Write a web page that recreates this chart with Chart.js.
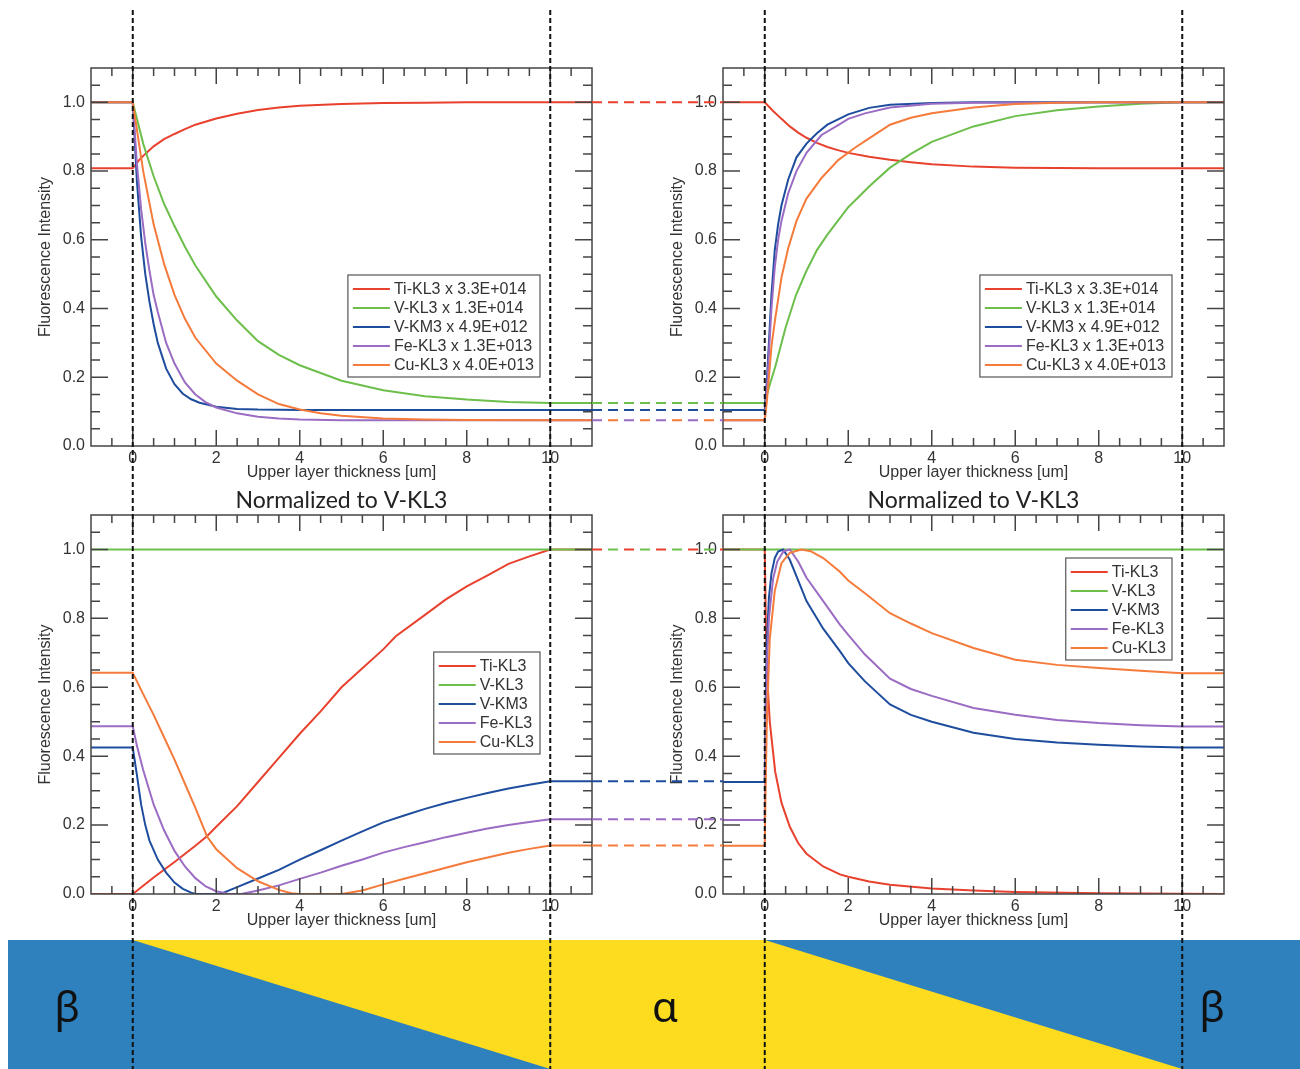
<!DOCTYPE html>
<html>
<head>
<meta charset="utf-8">
<script src="https://cdn.jsdelivr.net/npm/chart.js@4.4.1/dist/chart.umd.min.js"></script>
<style>
  html, body { margin: 0; padding: 0; background: #fff; }
  #page { position: relative; width: 1300px; height: 1069px; overflow: hidden; }
  .panel { position: absolute; width: 640px; height: 450px; }
  #band, #overlay { position: absolute; left: 0; top: 0; }
  #overlay { pointer-events: none; }
</style>
</head>
<body>
<div id="page">
  <canvas id="band" width="1300" height="1069"></canvas>
  <div class="panel" style="left:0;top:40px"><canvas id="cTL"></canvas></div>
  <div class="panel" style="left:632px;top:40px"><canvas id="cTR"></canvas></div>
  <div class="panel" style="left:0;top:487px"><canvas id="cBL"></canvas></div>
  <div class="panel" style="left:632px;top:487px"><canvas id="cBR"></canvas></div>
  <canvas id="overlay" width="1300" height="1069"></canvas>
</div>
<script>
// series names, scale factors and colours (same order in every panel)
const lineNames = ['Ti-KL3', 'V-KL3', 'V-KM3', 'Fe-KL3', 'Cu-KL3'];
const scaleFactors = ['3.3E+014', '1.3E+014', '4.9E+012', '1.3E+013', '4.0E+013'];
const lineColors = ['#e8412e', '#6cbf4b', '#1f4d9e', '#9b6cc3', '#f47b3b'];

const xTicks = [0, 2, 4, 6, 8, 10];
const yTicks = [0, 0.2, 0.4, 0.6, 0.8, 1.0];
const X_MINOR = 0.5, Y_MINOR = 0.05;

// --- top left: beta -> alpha, raw intensities  [x, y]
const tlTi = [[-1,0.808],[0,0.808],[0.15,0.832],[0.3,0.85],[0.5,0.872],[0.75,0.893],[1,0.908],[1.25,0.922],[1.5,0.935],[2,0.953],[2.5,0.967],[3,0.978],[3.5,0.985],[4,0.99],[5,0.995],[6,0.998],[7,0.999],[8,1],[10,1],[11,1]];
const tlV  = [[-1,1],[0,1],[0.25,0.88],[0.5,0.785],[0.75,0.705],[1,0.64],[1.25,0.58],[1.5,0.525],[2,0.435],[2.5,0.365],[3,0.305],[3.5,0.265],[4,0.235],[5,0.19],[6,0.162],[7,0.145],[8,0.135],[9,0.128],[10,0.125],[11,0.125]];
const tlVM = [[-1,1],[0,1],[0.1,0.77],[0.2,0.61],[0.3,0.5],[0.4,0.42],[0.5,0.355],[0.6,0.3],[0.8,0.225],[1,0.18],[1.2,0.152],[1.4,0.136],[1.6,0.126],[2,0.114],[2.5,0.108],[3,0.106],[4,0.105],[11,0.105]];
const tlFe = [[-1,1],[0,1],[0.1,0.82],[0.2,0.69],[0.3,0.59],[0.4,0.51],[0.5,0.44],[0.6,0.39],[0.8,0.3],[1,0.24],[1.25,0.185],[1.5,0.15],[1.75,0.127],[2,0.112],[2.5,0.095],[3,0.085],[3.5,0.08],[4,0.077],[5,0.075],[11,0.075]];
const tlCu = [[-1,1],[0,1],[0.25,0.8],[0.5,0.645],[0.75,0.53],[1,0.44],[1.25,0.37],[1.5,0.315],[2,0.24],[2.5,0.19],[3,0.15],[3.5,0.122],[4,0.106],[4.5,0.095],[5,0.088],[6,0.08],[7,0.077],[8,0.076],[10,0.075],[11,0.075]];

// --- top right: alpha -> beta, raw intensities
const trTi = [[-1,1],[0,1],[0.2,0.975],[0.4,0.952],[0.6,0.93],[0.8,0.912],[1,0.897],[1.25,0.882],[1.5,0.87],[1.75,0.861],[2,0.853],[2.5,0.842],[3,0.833],[3.5,0.826],[4,0.82],[5,0.813],[6,0.81],[8,0.808],[11,0.808]];
const trV  = [[-1,0.125],[0,0.125],[0.1,0.17],[0.25,0.23],[0.5,0.345],[0.75,0.44],[1,0.51],[1.25,0.57],[1.5,0.615],[2,0.695],[2.5,0.755],[3,0.81],[3.5,0.85],[4,0.885],[5,0.93],[6,0.96],[7,0.977],[8,0.988],[9,0.996],[10,1],[11,1]];
const trVM = [[-1,0.105],[0,0.105],[0.05,0.19],[0.1,0.3],[0.16,0.44],[0.24,0.57],[0.32,0.645],[0.4,0.7],[0.56,0.775],[0.76,0.84],[1,0.88],[1.25,0.91],[1.5,0.935],[2,0.965],[2.5,0.984],[3,0.993],[4,0.998],[5,1],[11,1]];
const trFe = [[-1,0.075],[0,0.075],[0.05,0.16],[0.1,0.27],[0.16,0.4],[0.24,0.52],[0.32,0.6],[0.4,0.655],[0.56,0.735],[0.76,0.8],[1,0.853],[1.36,0.905],[1.76,0.934],[2,0.952],[2.4,0.968],[3,0.985],[4,0.996],[5,0.999],[11,1]];
const trCu = [[-1,0.075],[0,0.075],[0.05,0.13],[0.1,0.2],[0.16,0.29],[0.25,0.37],[0.4,0.49],[0.56,0.575],[0.76,0.655],[1,0.72],[1.36,0.78],[1.76,0.832],[2.16,0.868],[2.5,0.895],[3,0.935],[3.5,0.955],[4,0.968],[5,0.985],[6,0.995],[7,0.999],[8,1],[11,1]];

// --- bottom left: normalized to V-KL3, beta -> alpha
const blTi = [[-1,0],[0,0],[0.5,0.048],[1,0.093],[1.5,0.14],[1.77,0.167],[2,0.195],[2.5,0.255],[3,0.325],[3.5,0.395],[4,0.465],[4.5,0.53],[5,0.6],[5.5,0.655],[6,0.71],[6.3,0.748],[7,0.81],[7.5,0.855],[8,0.893],[8.5,0.925],[9,0.958],[9.5,0.98],[10,1],[11,1]];
const blV  = [[-1,1],[11,1]];
const blVM = [[-1,0.425],[0,0.425],[0.1,0.345],[0.2,0.26],[0.3,0.2],[0.4,0.155],[0.6,0.1],[0.8,0.062],[1,0.033],[1.2,0.015],[1.4,0.004],[1.5,0],[2.1,0],[2.5,0.02],[3,0.045],[3.5,0.07],[4,0.1],[4.5,0.127],[5,0.155],[5.5,0.182],[6,0.208],[6.5,0.228],[7,0.247],[7.5,0.264],[8,0.279],[8.5,0.293],[9,0.306],[9.5,0.317],[10,0.327],[11,0.327]];
const blFe = [[-1,0.487],[0,0.487],[0.1,0.43],[0.25,0.36],[0.5,0.26],[0.75,0.185],[1,0.125],[1.25,0.08],[1.5,0.046],[1.75,0.022],[2,0.008],[2.3,0],[2.6,0],[3,0.01],[3.5,0.025],[4,0.044],[4.5,0.062],[5,0.082],[5.5,0.1],[6,0.12],[6.5,0.136],[7,0.15],[7.5,0.165],[8,0.178],[8.5,0.19],[9,0.2],[9.5,0.209],[10,0.217],[11,0.217]];
const blCu = [[-1,0.642],[0,0.642],[0.25,0.58],[0.5,0.52],[0.75,0.455],[1,0.39],[1.25,0.32],[1.5,0.25],[1.78,0.167],[2,0.13],[2.5,0.075],[3,0.037],[3.5,0.012],[3.8,0.002],[4,0],[5,0],[5.5,0.01],[6,0.028],[6.5,0.044],[7,0.06],[7.5,0.076],[8,0.092],[8.5,0.106],[9,0.12],[9.5,0.131],[10,0.141],[11,0.141]];

// --- bottom right: normalized to V-KL3, alpha -> beta
const brTi = [[-1,1],[0,1],[0.03,0.76],[0.06,0.63],[0.12,0.5],[0.25,0.355],[0.4,0.265],[0.6,0.195],[0.8,0.148],[1,0.117],[1.4,0.08],[1.8,0.057],[2,0.05],[2.5,0.036],[3,0.027],[4,0.016],[5,0.01],[6,0.006],[8,0.002],[10,0.001],[11,0]];
const brV  = [[-1,1],[11,1]];
const brVM = [[-1,0.325],[0,0.325],[0.02,0.55],[0.05,0.73],[0.1,0.86],[0.16,0.93],[0.24,0.975],[0.32,0.994],[0.44,1],[0.6,0.97],[0.8,0.91],[1,0.85],[1.4,0.77],[1.8,0.705],[2,0.67],[2.4,0.617],[3,0.55],[3.5,0.52],[4,0.5],[5,0.468],[6,0.45],[7,0.44],[8,0.433],[9,0.428],[10,0.425],[11,0.425]];
const brFe = [[-1,0.215],[0,0.215],[0.02,0.45],[0.05,0.66],[0.1,0.8],[0.2,0.915],[0.3,0.965],[0.45,0.995],[0.6,1],[0.8,0.965],[1,0.918],[1.4,0.85],[1.8,0.782],[2,0.752],[2.4,0.695],[3,0.625],[3.5,0.595],[4,0.575],[5,0.54],[6,0.52],[7,0.505],[8,0.496],[9,0.49],[10,0.486],[11,0.486]];
const brCu = [[-1,0.14],[0,0.14],[0.02,0.3],[0.05,0.5],[0.12,0.74],[0.24,0.88],[0.4,0.96],[0.6,0.99],[0.88,1],[1.1,0.995],[1.4,0.975],[1.8,0.935],[2,0.91],[2.4,0.873],[3,0.815],[3.5,0.785],[4,0.757],[5,0.714],[6,0.68],[7,0.665],[8,0.656],[9,0.648],[10,0.641],[11,0.641]];

const SANS = '"Liberation Sans", Arial, sans-serif';
const FS = 16;
Chart.defaults.font.family = SANS;
Chart.defaults.font.size = FS;
Chart.defaults.color = '#333';

function isMajor(v, list){
  return list.some(t => Math.abs(t - v) < 1e-6);
}

// IDL-like frame: box, inward ticks on all four sides, boxed legend
const idlBox = {
  id: 'idlBox',
  afterDatasetsDraw(chart, args, opts){
    const {ctx, chartArea: a, scales: {x, y}} = chart;
    ctx.save();
    ctx.strokeStyle = '#444';
    ctx.lineWidth = 1.5;
    ctx.strokeRect(a.left, a.top, a.right - a.left, a.bottom - a.top);

    ctx.beginPath();
    const nx = Math.round((x.max - x.min) / X_MINOR);
    for(let k = 1; k < nx; k++){
      const v = x.min + k * X_MINOR;
      const px = x.getPixelForValue(v);
      const len = isMajor(v, xTicks) ? 16 : 8;
      ctx.moveTo(px, a.bottom); ctx.lineTo(px, a.bottom - len);
      ctx.moveTo(px, a.top); ctx.lineTo(px, a.top + len);
    }
    const ny = Math.round((y.max - y.min) / Y_MINOR);
    for(let k = 1; k < ny; k++){
      const v = y.min + k * Y_MINOR;
      const py = y.getPixelForValue(v);
      const len = isMajor(v, yTicks) ? 17 : 9;
      ctx.moveTo(a.left, py); ctx.lineTo(a.left + len, py);
      ctx.moveTo(a.right, py); ctx.lineTo(a.right - len, py);
    }
    ctx.stroke();

    // legend
    const ds = chart.data.datasets;
    ctx.font = FS + 'px ' + SANS;
    const textW = Math.max(...ds.map(d => ctx.measureText(d.label).width));
    const w = 5 + 37 + 4 + textW + 6;
    const h = 14 + (ds.length - 1) * 19 + 12;
    const bx = a.right - 52 - w;
    const by = a.top + opts.legendTop;
    ctx.fillStyle = '#fff';
    ctx.fillRect(bx, by, w, h);
    ctx.lineWidth = 1.2;
    ctx.strokeStyle = '#555';
    ctx.strokeRect(bx, by, w, h);
    ctx.textBaseline = 'middle';
    ctx.textAlign = 'left';
    ds.forEach((d, i) => {
      const ry = by + 14 + i * 19;
      ctx.strokeStyle = d.borderColor;
      ctx.lineWidth = 2;
      ctx.beginPath();
      ctx.moveTo(bx + 5, ry); ctx.lineTo(bx + 42, ry);
      ctx.stroke();
      ctx.fillStyle = '#333';
      ctx.fillText(d.label, bx + 46, ry + 0.5);
    });
    ctx.restore();
  }
};

function makePanel(id, series, o){
  const datasets = series.map((pts, i) => ({
    label: o.scaled ? lineNames[i] + ' x ' + scaleFactors[i] : lineNames[i],
    data: pts.map(p => ({x: p[0], y: p[1]})),
    borderColor: lineColors[i],
    backgroundColor: lineColors[i],
    borderWidth: 2,
    pointRadius: 0,
    tension: 0,
    fill: false,
    order: series.length - i
  }));
  return new Chart(document.getElementById(id), {
    type: 'line',
    data: {datasets},
    options: {
      responsive: true,
      maintainAspectRatio: false,
      animation: false,
      events: [],
      layout: {padding: {left: 0, top: o.padTop, right: 48, bottom: o.padBottom}},
      plugins: {
        legend: {display: false},
        tooltip: {enabled: false},
        title: {
          display: !!o.title,
          text: o.title || '',
          fullSize: false,
          color: '#222',
          font: {family: 'Lato, "Open Sans", sans-serif', size: 23, weight: 'normal'},
          padding: {top: 0, bottom: 0.4}
        },
        idlBox: {legendTop: o.legendTop}
      },
      scales: {
        x: {
          type: 'linear', min: -1, max: 11,
          afterBuildTicks: s => { s.ticks = xTicks.map(v => ({value: v})); },
          afterFit: s => { s.height = 38; },
          grid: {display: false, drawTicks: false},
          border: {display: false},
          ticks: {padding: 3, maxRotation: 0, autoSkip: false, callback: v => String(v)},
          title: {display: true, text: 'Upper layer thickness [um]', padding: {top: 0, bottom: o.xTitlePad}}
        },
        y: {
          type: 'linear', min: 0, max: 1.1,
          afterBuildTicks: s => { s.ticks = yTicks.map(v => ({value: v})); },
          afterFit: s => { s.width = 91; },
          grid: {display: false, drawTicks: false},
          border: {display: false},
          ticks: {padding: 6, autoSkip: false, callback: v => Number(v).toFixed(1)},
          title: {display: true, text: 'Fluorescence Intensity', padding: {top: 35.9, bottom: 0}}
        }
      }
    },
    plugins: [idlBox]
  });
}

const TL = makePanel('cTL', [tlTi, tlV, tlVM, tlFe, tlCu], {scaled: true, padTop: 28, padBottom: 6, xTitlePad: 1.4, legendTop: 207});
const TR = makePanel('cTR', [trTi, trV, trVM, trFe, trCu], {scaled: true, padTop: 28, padBottom: 6, xTitlePad: 1.4, legendTop: 207});
const BL = makePanel('cBL', [blTi, blV, blVM, blFe, blCu], {title: 'Normalized to V-KL3', padTop: 0, padBottom: 5, xTitlePad: 1.9, legendTop: 137});
const BR = makePanel('cBR', [brTi, brV, brVM, brFe, brCu], {title: 'Normalized to V-KL3', padTop: 0, padBottom: 5, xTitlePad: 1.9, legendTop: 43});

function pageX(chart, v){ return chart.canvas.parentNode.offsetLeft + chart.scales.x.getPixelForValue(v); }
function pageY(chart, v){ return chart.canvas.parentNode.offsetTop + chart.scales.y.getPixelForValue(v); }

// layer schematic under the plots
(function drawBand(){
  const ctx = document.getElementById('band').getContext('2d');
  const top = 940, bottom = 1069;
  const a0 = pageX(TL, 0), a1 = pageX(TL, 10), b0 = pageX(TR, 0), b1 = pageX(TR, 10);
  const BLUE = '#2f81bd', YELLOW = '#fddb1f';
  ctx.fillStyle = BLUE;
  ctx.fillRect(8, top, 1300 - 8, bottom - top);
  ctx.fillStyle = YELLOW;
  ctx.beginPath();
  ctx.moveTo(a0, top); ctx.lineTo(a1, top); ctx.lineTo(a1, bottom); ctx.closePath();
  ctx.fill();
  ctx.fillRect(a1, top, b0 - a1, bottom - top);
  ctx.beginPath();
  ctx.moveTo(b0, top); ctx.lineTo(b1, bottom); ctx.lineTo(b0, bottom); ctx.closePath();
  ctx.fill();
  ctx.fillStyle = '#111';
  ctx.font = '42px "Noto Sans", "Open Sans", sans-serif';
  ctx.textAlign = 'center';
  ctx.textBaseline = 'alphabetic';
  ctx.fillText('β', 67, 1022);
  ctx.fillText('α', 665, 1022);
  ctx.fillText('β', 1212, 1022);
})();

// dashed guides and connectors between panel pairs
(function drawOverlay(){
  const ctx = document.getElementById('overlay').getContext('2d');

  function connectors(left, right){
    const x0 = pageX(left, 11), x1 = pageX(right, -1);
    const ends = left.data.datasets.map((d, i) => ({v: d.data[d.data.length - 1].y, c: lineColors[i]}));
    const groups = [];
    ends.forEach(e => {
      const g = groups.find(g => Math.abs(g.v - e.v) < 0.004);
      if(g) g.cols.push(e.c); else groups.push({v: e.v, cols: [e.c]});
    });
    ctx.lineWidth = 2;
    groups.forEach(g => {
      const py = pageY(left, g.v);
      const n = g.cols.length;
      g.cols.forEach((c, k) => {
        ctx.strokeStyle = c;
        ctx.setLineDash([10, 16 * n - 10]);
        ctx.lineDashOffset = -k * 16;
        ctx.beginPath();
        ctx.moveTo(x0, py); ctx.lineTo(x1, py);
        ctx.stroke();
      });
    });
  }
  connectors(TL, TR);
  connectors(BL, BR);

  ctx.setLineDash([5, 3]);
  ctx.lineDashOffset = 0;
  ctx.strokeStyle = '#111';
  ctx.lineWidth = 2;
  [pageX(TL, 0), pageX(TL, 10), pageX(TR, 0), pageX(TR, 10)].forEach(px => {
    ctx.beginPath();
    ctx.moveTo(px, 10); ctx.lineTo(px, 1069);
    ctx.stroke();
  });
})();
</script>
</body>
</html>
